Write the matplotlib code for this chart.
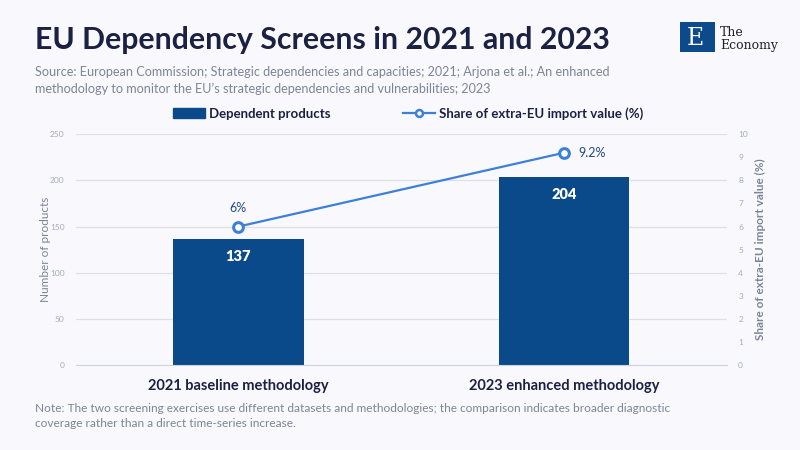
import matplotlib.pyplot as plt
import matplotlib.patches as mpatches
from matplotlib.lines import Line2D
import numpy as np

# ---------------------------------------------------------------------
# Data
# ---------------------------------------------------------------------
categories = ["2021 baseline methodology", "2023 enhanced methodology"]
dependent_products = [137, 204]
import_share = [6.0, 9.2]
share_labels = ["6%", "9.2%"]

left_ticks = [0, 50, 100, 150, 200, 250]
right_ticks = list(range(0, 11))

BG = "#f9f9fd"
NAVY = "#1b2142"
BAR = "#0b4a8a"
LINE = "#3d80d8"
GREY = "#7d8499"
TICK = "#a3aabb"
GRID = "#dde0e8"

plt.rcParams["font.family"] = ["Lato", "DejaVu Sans"]

fig = plt.figure(figsize=(8, 4.5), dpi=100, facecolor=BG)
ax = fig.add_axes([0.0944, 0.1889, 0.8144, 0.5127])
ax.set_facecolor(BG)
ax2 = ax.twinx()

x = np.arange(len(categories))

ax.bar(x, dependent_products, width=0.4, color=BAR, zorder=2)
for xi, v in zip(x, dependent_products):
    ax.text(xi, v - 12, str(v), ha="center", va="top", color="white",
            fontsize=10.5, fontweight="heavy", zorder=3)

ax.set_xlim(-0.5, 1.5)
ax.set_ylim(0, 250)
ax.set_yticks(left_ticks)
ax.grid(axis="y", color=GRID, linewidth=0.9, zorder=0)
ax.set_axisbelow(True)
ax.set_xticks(x)
ax.set_xticklabels(categories, fontsize=10.5, fontweight="bold", color=NAVY)
ax.tick_params(axis="x", length=0, pad=10)
ax.tick_params(axis="y", length=0, labelsize=6, labelcolor=TICK, pad=8)
ax.set_ylabel("Number of products", color=GREY, fontsize=8.5, labelpad=-1)
for s in ax.spines.values():
    s.set_visible(False)
ax.spines["bottom"].set_visible(True)
ax.spines["bottom"].set_color("#cfd3dd")

ax2.plot(x, import_share, color=LINE, linewidth=1.6, marker="o",
         markersize=7, markerfacecolor="white", markeredgecolor=LINE,
         markeredgewidth=2.2, zorder=4)
ax2.set_ylim(0, 10)
ax2.set_yticks(right_ticks)
ax2.tick_params(axis="y", length=0, labelsize=6, labelcolor=TICK, pad=8)
ax2.set_ylabel("Share of extra-EU import value (%)", color=GREY,
               fontsize=8.5, fontweight="bold", labelpad=5)
for s in ax2.spines.values():
    s.set_visible(False)

ax2.annotate(share_labels[0], (x[0], import_share[0]), xytext=(0, 9),
             textcoords="offset points", ha="center", va="bottom",
             color="#1f4a80", fontsize=9)
ax2.annotate(share_labels[1], (x[1], import_share[1]), xytext=(10, 0),
             textcoords="offset points", ha="left", va="center",
             color="#1f4a80", fontsize=9)

# Legend
handles = [
    mpatches.Patch(color=BAR, label="Dependent products"),
    Line2D([], [], color=LINE, linewidth=1.6, marker="o", markersize=5,
           markerfacecolor="white", markeredgecolor=LINE,
           markeredgewidth=1.8, label="Share of extra-EU import value (%)"),
]
leg = fig.legend(handles=handles, loc="center", bbox_to_anchor=(0.51, 0.748),
                 ncol=2, frameon=False, fontsize=9.5, handlelength=2.4,
                 columnspacing=5.5, handletextpad=0.3)
for t in leg.get_texts():
    t.set_fontweight("bold")
    t.set_color(NAVY)

# Titles and notes
fig.text(0.044, 0.912, "EU Dependency Screens in 2021 and 2023", fontsize=21.8,
         fontweight="bold", color=NAVY, va="center")
fig.text(0.044, 0.821,
         "Source: European Commission; Strategic dependencies and capacities; 2021; Arjona et al.; An enhanced\n"
         "methodology to monitor the EU\u2019s strategic dependencies and vulnerabilities; 2023",
         fontsize=9.1, color=GREY, va="center", linespacing=1.45)
fig.text(0.044, 0.075,
         "Note: The two screening exercises use different datasets and methodologies; the comparison indicates broader diagnostic\n"
         "coverage rather than a direct time-series increase.",
         fontsize=8.6, color=GREY, va="center", linespacing=1.45)

# Logo
logo = fig.add_axes([680 / 800, 1 - 52 / 450, 35 / 800, 30 / 450])
logo.set_facecolor("#0d4a8c")
logo.set_xticks([])
logo.set_yticks([])
for s in logo.spines.values():
    s.set_visible(False)
logo.text(0.45, 0.45, "E", color="white", fontsize=17, family="DejaVu Serif",
          ha="center", va="center", transform=logo.transAxes)
fig.text(720 / 800, 1 - 33 / 450, "The", fontsize=9, family="DejaVu Serif",
         color="#222222", va="center")
fig.text(720 / 800, 1 - 45 / 450, "Economy", fontsize=9, family="DejaVu Serif",
         color="#222222", va="center")

fig.savefig("out.png", dpi=100, facecolor=BG)
